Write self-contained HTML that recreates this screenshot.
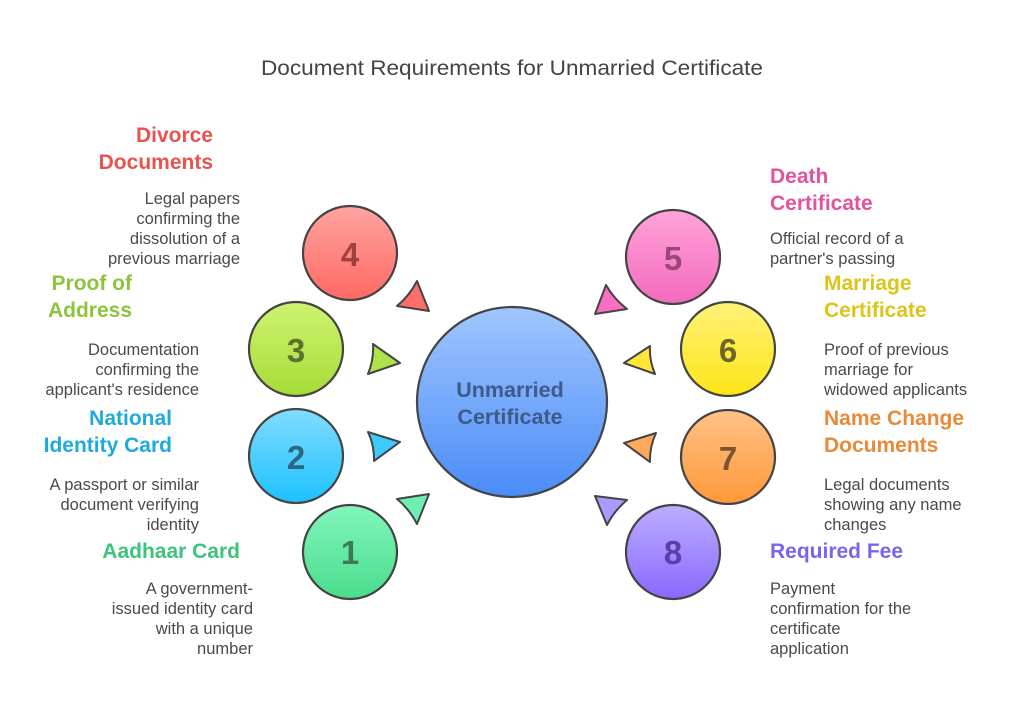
<!DOCTYPE html>
<html>
<head>
<meta charset="utf-8">
<style>
  html, body { margin: 0; padding: 0; background: #ffffff; }
  svg { display: block; }
  text { font-family: "Liberation Sans", Arial, sans-serif; }
  .h { font-size: 21px; font-weight: 700; }
  .d { font-size: 16.5px; fill: #4a4a4a; }
  .n { font-size: 33px; font-weight: 700; text-anchor: middle; }
  .L { text-anchor: end; }
</style>
</head>
<body>
<svg width="1024" height="714" viewBox="0 0 1024 714" xmlns="http://www.w3.org/2000/svg">
  <defs>
    <linearGradient id="g4" x1="0" y1="0" x2="0" y2="1"><stop offset="0" stop-color="#ffa3a0"/><stop offset="1" stop-color="#ff6a64"/></linearGradient>
    <linearGradient id="g3" x1="0" y1="0" x2="0" y2="1"><stop offset="0" stop-color="#cdf472"/><stop offset="1" stop-color="#a6dc36"/></linearGradient>
    <linearGradient id="g2" x1="0" y1="0" x2="0" y2="1"><stop offset="0" stop-color="#82dcff"/><stop offset="1" stop-color="#1cc2ff"/></linearGradient>
    <linearGradient id="g1" x1="0" y1="0" x2="0" y2="1"><stop offset="0" stop-color="#82f6bc"/><stop offset="1" stop-color="#4adc8c"/></linearGradient>
    <linearGradient id="g5" x1="0" y1="0" x2="0" y2="1"><stop offset="0" stop-color="#ffa4da"/><stop offset="1" stop-color="#f46abe"/></linearGradient>
    <linearGradient id="g6" x1="0" y1="0" x2="0" y2="1"><stop offset="0" stop-color="#fff27a"/><stop offset="1" stop-color="#ffe416"/></linearGradient>
    <linearGradient id="g7" x1="0" y1="0" x2="0" y2="1"><stop offset="0" stop-color="#ffc286"/><stop offset="1" stop-color="#ff983a"/></linearGradient>
    <linearGradient id="g8" x1="0" y1="0" x2="0" y2="1"><stop offset="0" stop-color="#bcaeff"/><stop offset="1" stop-color="#8a68ff"/></linearGradient>
    <linearGradient id="gc" x1="0" y1="0" x2="0" y2="1"><stop offset="0" stop-color="#a0c6ff"/><stop offset="1" stop-color="#4a8cf8"/></linearGradient>
  </defs>

  <!-- Title -->
  <text x="512" y="75" font-size="21" fill="#444444" text-anchor="middle" textLength="502" lengthAdjust="spacingAndGlyphs">Document Requirements for Unmarried Certificate</text>

  <!-- Central circle -->
  <circle cx="512" cy="402" r="95" fill="url(#gc)" stroke="#444" stroke-width="2.2"/>
  <text x="510" y="397" font-size="21.5" font-weight="700" fill="#3e5a86" text-anchor="middle">Unmarried</text>
  <text x="510" y="424" font-size="21.5" font-weight="700" fill="#3e5a86" text-anchor="middle">Certificate</text>

  <!-- Triangles (back edge slightly concave) -->
  <g stroke="#444" stroke-width="2" stroke-linejoin="round">
    <path d="M417,281 Q409.6,295.6 397,306 L429,311 Z" fill="#ff6e68"/>
    <path d="M373,344 Q374,359.5 368,374 L400,363 Z" fill="#b0e24a"/>
    <path d="M368,432 Q374.5,446 374,461 L400,442 Z" fill="#3ccaff"/>
    <path d="M397,499 Q409.6,509.4 417,524 L429,494 Z" fill="#6eeeb0"/>
    <path d="M606,285 Q613.9,299 627,309 L595,314 Z" fill="#f870c4"/>
    <path d="M650,346 Q649.1,360.4 655,374 L624,363 Z" fill="#ffe636"/>
    <path d="M656,433 Q649.5,447 650,462 L624,443 Z" fill="#ffa85a"/>
    <path d="M627,500 Q614.4,510.5 607,525 L595,496 Z" fill="#ad9aff"/>
  </g>

  <!-- Circles -->
  <g stroke="#444" stroke-width="2.2">
    <circle cx="350" cy="253" r="47" fill="url(#g4)"/>
    <circle cx="296" cy="349" r="47" fill="url(#g3)"/>
    <circle cx="296" cy="456" r="47" fill="url(#g2)"/>
    <circle cx="350" cy="552" r="47" fill="url(#g1)"/>
    <circle cx="673" cy="257" r="47" fill="url(#g5)"/>
    <circle cx="728" cy="349" r="47" fill="url(#g6)"/>
    <circle cx="728" cy="457" r="47" fill="url(#g7)"/>
    <circle cx="673" cy="552" r="47" fill="url(#g8)"/>
  </g>

  <!-- Numbers -->
  <text class="n" x="350" y="266" fill="#a0403e">4</text>
  <text class="n" x="296" y="362" fill="#5c7030">3</text>
  <text class="n" x="296" y="469" fill="#2c6680">2</text>
  <text class="n" x="350" y="564" fill="#3a7a55">1</text>
  <text class="n" x="673" y="270" fill="#9a4878">5</text>
  <text class="n" x="728" y="362" fill="#6e6628">6</text>
  <text class="n" x="728" y="470" fill="#7a5530">7</text>
  <text class="n" x="673" y="564" fill="#5840a8">8</text>

  <!-- Left side texts -->
  <text class="h L" x="213" y="142" fill="#e8534f">Divorce</text>
  <text class="h L" x="213" y="169" fill="#e8534f">Documents</text>
  <text class="d L" x="240" y="204">Legal papers</text>
  <text class="d L" x="240" y="224">confirming the</text>
  <text class="d L" x="240" y="244">dissolution of a</text>
  <text class="d L" x="240" y="264">previous marriage</text>

  <text class="h L" x="132" y="290" fill="#8cc43c">Proof of</text>
  <text class="h L" x="132" y="317" fill="#8cc43c">Address</text>
  <text class="d L" x="199" y="355">Documentation</text>
  <text class="d L" x="199" y="375">confirming the</text>
  <text class="d L" x="199" y="395">applicant's residence</text>

  <text class="h L" x="172" y="425" fill="#1eaade">National</text>
  <text class="h L" x="172" y="452" fill="#1eaade">Identity Card</text>
  <text class="d L" x="199" y="490">A passport or similar</text>
  <text class="d L" x="199" y="510">document verifying</text>
  <text class="d L" x="199" y="530">identity</text>

  <text class="h L" x="240" y="558" fill="#3cc47c">Aadhaar Card</text>
  <text class="d L" x="253" y="594">A government-</text>
  <text class="d L" x="253" y="614">issued identity card</text>
  <text class="d L" x="253" y="634">with a unique</text>
  <text class="d L" x="253" y="654">number</text>

  <!-- Right side texts -->
  <text class="h" x="770" y="183" fill="#e2529e">Death</text>
  <text class="h" x="770" y="210" fill="#e2529e">Certificate</text>
  <text class="d" x="770" y="244">Official record of a</text>
  <text class="d" x="770" y="264">partner's passing</text>

  <text class="h" x="824" y="290" fill="#dcc418">Marriage</text>
  <text class="h" x="824" y="317" fill="#dcc418">Certificate</text>
  <text class="d" x="824" y="355">Proof of previous</text>
  <text class="d" x="824" y="375">marriage for</text>
  <text class="d" x="824" y="395">widowed applicants</text>

  <text class="h" x="824" y="425" fill="#e88a38">Name Change</text>
  <text class="h" x="824" y="452" fill="#e88a38">Documents</text>
  <text class="d" x="824" y="490">Legal documents</text>
  <text class="d" x="824" y="510">showing any name</text>
  <text class="d" x="824" y="530">changes</text>

  <text class="h" x="770" y="558" fill="#7b64ec">Required Fee</text>
  <text class="d" x="770" y="594">Payment</text>
  <text class="d" x="770" y="614">confirmation for the</text>
  <text class="d" x="770" y="634">certificate</text>
  <text class="d" x="770" y="654">application</text>
</svg>
</body>
</html>
